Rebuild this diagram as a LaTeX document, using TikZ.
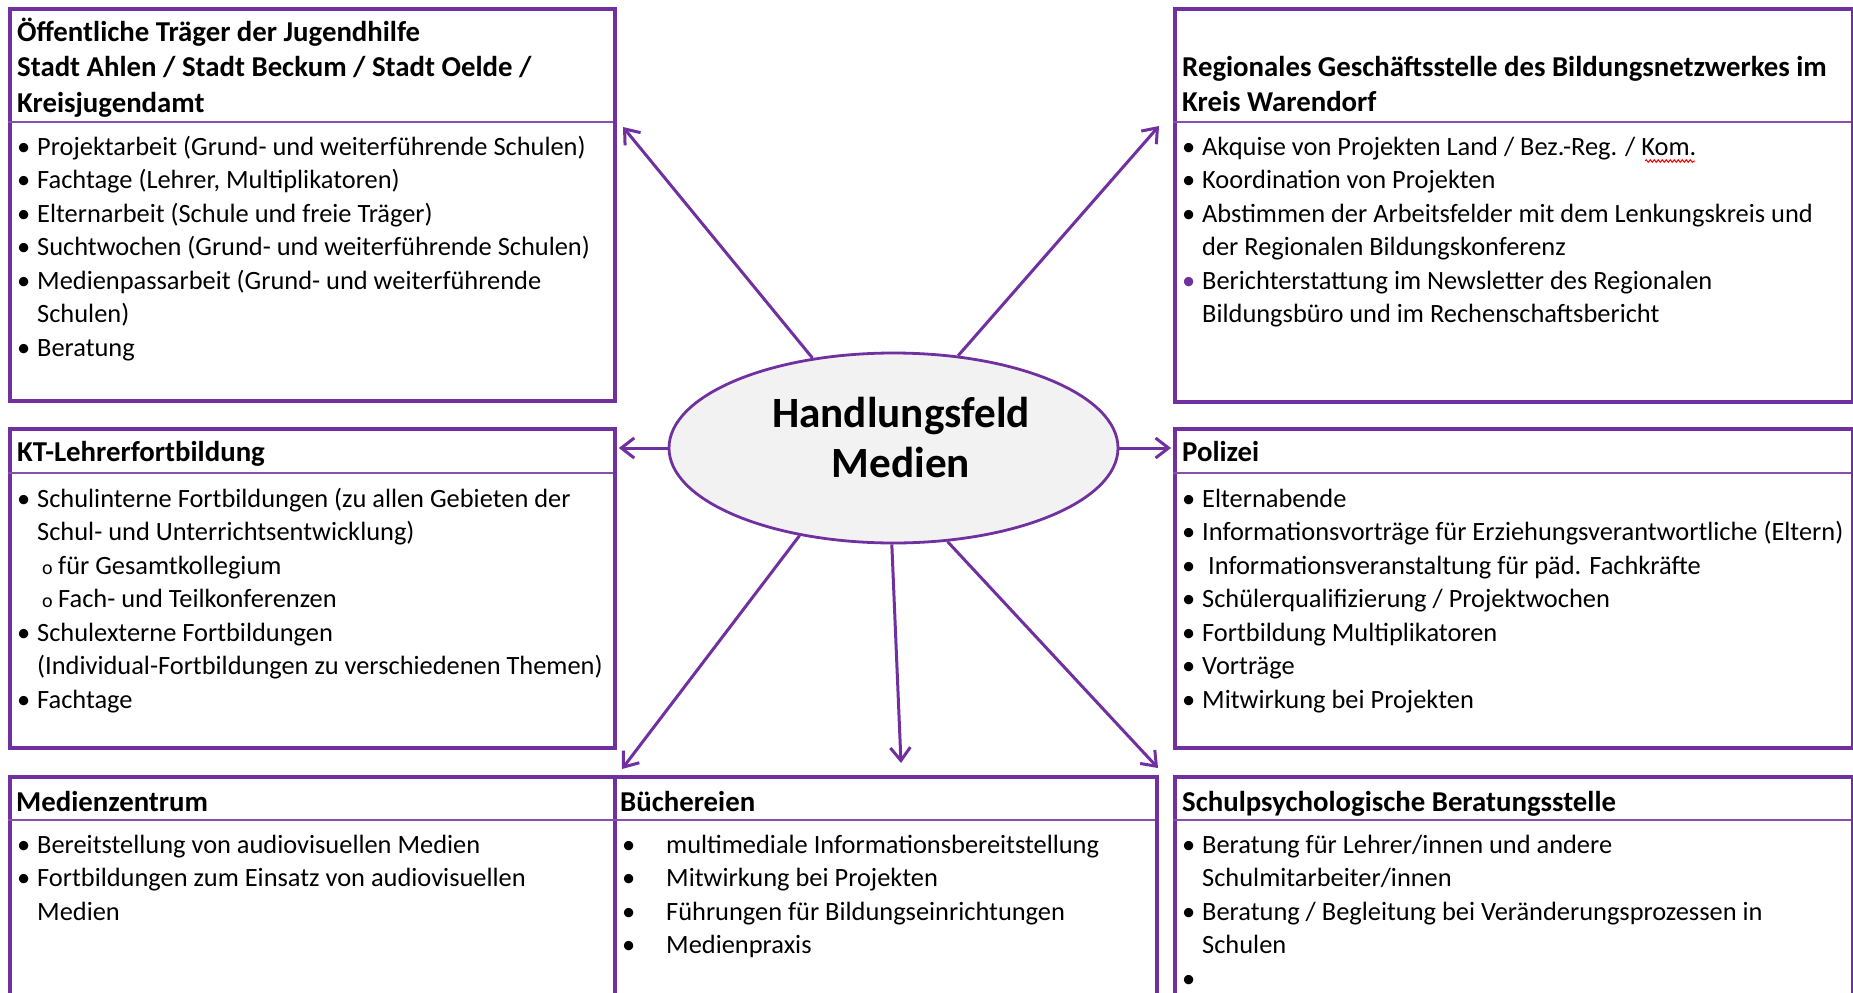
\documentclass[tikz,border=0pt]{standalone}
\usepackage{fontspec}
\setmainfont{Carlito}
\usetikzlibrary{shapes.geometric,arrows.meta,decorations.pathmorphing}
\definecolor{purp}{HTML}{7030A0}
\definecolor{ellfill}{HTML}{F2F2F2}
\newcommand{\bu}{\makebox[20pt][l]{\textbullet}}
\newcommand{\cont}{\hspace*{20pt}}
\newcommand{\subo}{\hspace*{25pt}\makebox[16pt][l]{\fontsize{20}{20}\selectfont o}}
\newcommand{\fst}{\rule{0pt}{24pt}}
\begin{document}
\begin{tikzpicture}[x=1pt,y=-1pt,
  box/.style={draw=purp, line width=3.8pt, inner sep=0pt, anchor=north west},
  sepline/.style={draw=purp!85, line width=2.2pt},
  hdr/.style={inner sep=0pt, anchor=north west, align=left, font=\bfseries\fontsize{28.8}{35.5}\selectfont},
  body/.style={inner sep=0pt, anchor=north west, align=left, font=\fontsize{26.4}{33.5}\selectfont},
  ell/.style={ellipse, draw=purp, fill=ellfill, line width=2.8pt, minimum width=449pt, minimum height=190pt, inner sep=0pt},
  etext/.style={inner sep=0pt, align=center, font=\bfseries\fontsize{43.2}{50}\selectfont},
  arr/.style={draw=purp, line width=3pt, -{Straight Barb[length=13pt,width=20pt]}}]
\clip (0,0) rectangle (1853,993);
\fill[white] (0,0) rectangle (1853,993);

% boxes
\node[box, minimum width=605pt, minimum height=392pt] (tl) at (8,7) {};
\node[box, minimum width=678pt, minimum height=393pt] (tr) at (1173,7) {};
\node[box, minimum width=605pt, minimum height=319pt] (ml) at (8,427) {};
\node[box, minimum width=678pt, minimum height=319pt] (mr) at (1173,427) {};
\node[box, minimum width=605pt, minimum height=260pt] (bl) at (8,775) {};
\node[box, minimum width=542pt, minimum height=260pt] (bm) at (613,775) {};
\node[box, minimum width=678pt, minimum height=260pt] (br) at (1173,775) {};

% header separators
\draw[sepline] (8,122) -- (613,122);
\draw[sepline] (1173,122) -- (1851,122);
\draw[sepline] (8,473) -- (613,473);
\draw[sepline] (1173,473) -- (1851,473);
\draw[sepline] (8,820) -- (1155,820);
\draw[sepline] (1173,820) -- (1851,820);

% headers
\node[hdr] (tlh) at (17,17) {\fst Öffentliche Träger der Jugendhilfe\\Stadt Ahlen / Stadt Beckum / Stadt Oelde /\\Kreisjugendamt};
\node[hdr] (trh) at (1182,52) {\fst Regionales Geschäftsstelle des Bildungsnetzwerkes im\\Kreis Warendorf};
\node[hdr] (mlh) at (17,437) {\fst KT-Lehrerfortbildung};
\node[hdr] (mrh) at (1182,437) {\fst Polizei};
\node[hdr] (blh) at (16,787) {\fst Medienzentrum};
\node[hdr] (bmh) at (620,787) {\fst Büchereien};
\node[hdr] (brh) at (1182,787) {\fst Schulpsychologische Beratungsstelle};

% bodies
\node[body] (tlb) at (17,131) {\fst\bu Projektarbeit (Grund- und weiterführende Schulen)\\
\bu Fachtage (Lehrer, Multiplikatoren)\\
\bu Elternarbeit (Schule und freie Träger)\\
\bu Suchtwochen (Grund- und weiterführende Schulen)\\
\bu Medienpassarbeit (Grund- und weiterführende\\
\cont Schulen)\\
\bu Beratung};

\node[body] (trb) at (1182,131) {\fst\bu Akquise von Projekten Land / Bez.-Reg. / Kom.\\
\bu Koordination von Projekten\\
\bu Abstimmen der Arbeitsfelder mit dem Lenkungskreis und\\
\cont der Regionalen Bildungskonferenz\\
\makebox[20pt][l]{\textcolor{purp}{\textbullet}}Berichterstattung im Newsletter des Regionalen\\
\cont Bildungsbüro und im Rechenschaftsbericht};
\draw[red, line width=1pt, decorate, decoration={snake, amplitude=1.3pt, segment length=4pt}] (1645,161) -- (1695,161);

\node[body] (mlb) at (17,483) {\fst\bu Schulinterne Fortbildungen (zu allen Gebieten der\\
\cont Schul- und Unterrichtsentwicklung)\\
\subo für Gesamtkollegium\\
\subo Fach- und Teilkonferenzen\\
\bu Schulexterne Fortbildungen\\
\cont (Individual-Fortbildungen zu verschiedenen Themen)\\
\bu Fachtage};

\node[body] (mrb) at (1182,483) {\fst\bu Elternabende\\
\bu Informationsvorträge für Erziehungsverantwortliche (Eltern)\\
\bu\hspace{6pt}Informationsveranstaltung für päd. Fachkräfte\\
\bu Schülerqualifizierung / Projektwochen\\
\bu Fortbildung Multiplikatoren\\
\bu Vorträge\\
\bu Mitwirkung bei Projekten};

\node[body] (blb) at (17,829) {\fst\bu Bereitstellung von audiovisuellen Medien\\
\bu Fortbildungen zum Einsatz von audiovisuellen\\
\cont Medien};

\node[body] (bmb) at (622,829) {\fst\makebox[44pt][l]{\textbullet}multimediale Informationsbereitstellung\\
\makebox[44pt][l]{\textbullet}Mitwirkung bei Projekten\\
\makebox[44pt][l]{\textbullet}Führungen für Bildungseinrichtungen\\
\makebox[44pt][l]{\textbullet}Medienpraxis};

\node[body] (brb) at (1182,829) {\fst\bu Beratung für Lehrer/innen und andere\\
\cont Schulmitarbeiter/innen\\
\bu Beratung / Begleitung bei Veränderungsprozessen in\\
\cont Schulen\\
\bu};

% center
\node[ell] (e) at (893.5,448) {};
\node[etext] (et) at (901,437) {Handlungsfeld\\Medien};

% arrow ends
\coordinate (cTL) at (623,127);
\coordinate (cTR) at (1159,126);
\coordinate (cBL) at (622,769);
\coordinate (cBM) at (901,763);
\coordinate (cBR) at (1158,768);

\draw[arr] (e.132.9) -- (cTL);
\draw[arr] (e.55.3) -- (cTR);
\draw[arr] (e.223.6) -- (cBL);
\draw[arr] (e.269) -- (cBM);
\draw[arr] (e.300) -- (cBR);
\draw[arr, shorten >=2pt] (e.west) -- (e.west -| ml.east);
\draw[arr, shorten >=2pt] (e.east) -- (e.east -| mr.west);
\end{tikzpicture}
\end{document}
